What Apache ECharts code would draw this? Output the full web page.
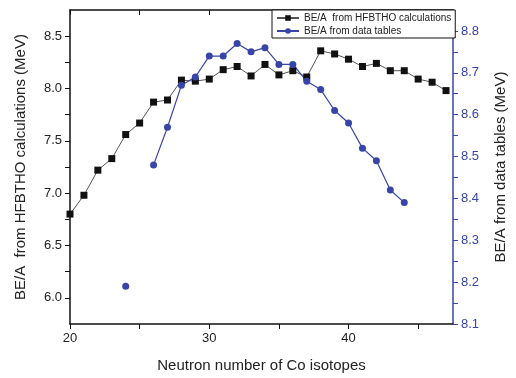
<!DOCTYPE html>
<html>
<head>
<meta charset="utf-8">
<script src="https://cdn.jsdelivr.net/npm/echarts@6/dist/echarts.min.js"></script>
<style>
  html, body { margin: 0; padding: 0; background: #fff; }
  #chart { width: 516px; height: 378px; }
</style>
</head>
<body>
<div id="chart"></div>
<script>
// neutron numbers
var neutronsCalc = [20, 21, 22, 23, 24, 25, 26, 27, 28, 29, 30, 31, 32, 33, 34, 35, 36, 37, 38, 39, 40, 41, 42, 43, 44, 45, 46, 47];
var beCalc = [6.80, 6.98, 7.22, 7.33, 7.56, 7.67, 7.87, 7.89, 8.08, 8.07, 8.09, 8.18, 8.21, 8.12, 8.23, 8.13, 8.17, 8.11, 8.36, 8.33, 8.28, 8.21, 8.24, 8.17, 8.17, 8.09, 8.06, 7.98];

var neutronsData = [24, 25, 26, 27, 28, 29, 30, 31, 32, 33, 34, 35, 36, 37, 38, 39, 40, 41, 42, 43, 44];
// 25 missing -> gap in the line
var beData = [8.19, null, 8.48, 8.57, 8.67, 8.69, 8.74, 8.74, 8.77, 8.75, 8.76, 8.72, 8.72, 8.68, 8.66, 8.61, 8.58, 8.52, 8.49, 8.42, 8.39];

var legendNames = ['BE/A  from HFBTHO calculations', 'BE/A from data tables'];

var blue = '#3845a8';
var font = 'Liberation Sans, Arial, sans-serif';

function pairs(xs, ys) {
  return xs.map(function (x, i) { return [x, ys[i]]; });
}

var chart = echarts.init(document.getElementById('chart'));

chart.setOption({
  animation: false,
  textStyle: { fontFamily: font },
  grid: { left: 70, right: 59, top: 10, bottom: 53 },
  legend: {
    orient: 'vertical',
    left: 272,
    top: 10,
    data: legendNames,
    itemWidth: 22,
    itemHeight: 7,
    itemGap: 3,
    padding: [3, 4, 2, 4],
    borderColor: '#111',
    borderWidth: 1,
    backgroundColor: '#fff',
    textStyle: { fontSize: 10, color: '#222', fontFamily: font }
  },
  xAxis: [{
    type: 'value',
    min: 20,
    max: 47.5,
    interval: 5,
    name: 'Neutron number of Co isotopes',
    nameLocation: 'middle',
    nameGap: 34,
    nameTextStyle: { fontSize: 15, color: '#222' },
    axisLine: { lineStyle: { color: '#111', width: 1.5 } },
    axisTick: { inside: false, length: 5, lineStyle: { color: '#111' } },
    axisLabel: {
      fontSize: 13, color: '#222',
      showMaxLabel: false,
      formatter: function (v) { return v % 10 === 0 ? v : ''; }
    },
    splitLine: { show: false }
  }, {
    type: 'value',
    position: 'top',
    min: 20,
    max: 47.5,
    interval: 5,
    axisLine: { show: true, lineStyle: { color: '#111', width: 1.5 } },
    axisTick: { inside: true, length: 5, lineStyle: { color: '#111' } },
    axisLabel: { show: false },
    splitLine: { show: false }
  }],
  yAxis: [{
    type: 'value',
    min: 5.75,
    max: 8.75,
    interval: 0.25,
    name: 'BE/A  from HFBTHO calculations (MeV)',
    nameLocation: 'middle',
    nameGap: 42,
    nameTextStyle: { fontSize: 15, color: '#222' },
    axisLine: { show: true, lineStyle: { color: '#111', width: 1.5 } },
    axisTick: { show: true, length: 5, lineStyle: { color: '#111' } },
    axisLabel: {
      fontSize: 13, color: '#222',
      showMinLabel: false, showMaxLabel: false,
      formatter: function (v) {
        return Math.round(v * 100) % 50 === 0 ? v.toFixed(1) : '';
      }
    },
    splitLine: { show: false }
  }, {
    type: 'value',
    position: 'right',
    min: 8.1,
    max: 8.85,
    interval: 0.05,
    name: 'BE/A from data tables (MeV)',
    nameLocation: 'middle',
    nameRotate: 90,
    nameGap: 40,
    nameTextStyle: { fontSize: 15, color: '#222' },
    axisLine: { show: true, lineStyle: { color: blue, width: 1.5 } },
    axisTick: { show: true, length: 5, lineStyle: { color: blue } },
    axisLabel: {
      fontSize: 13, color: blue,
      showMaxLabel: false,
      formatter: function (v) {
        return Math.round(v * 100) % 10 === 0 ? v.toFixed(1) : '';
      }
    },
    splitLine: { show: false }
  }],
  series: [{
    name: legendNames[0],
    type: 'line',
    yAxisIndex: 0,
    data: pairs(neutronsCalc, beCalc),
    symbol: 'rect',
    symbolSize: 7,
    itemStyle: { color: '#111' },
    lineStyle: { color: '#555', width: 1 }
  }, {
    name: legendNames[1],
    type: 'line',
    yAxisIndex: 1,
    data: pairs(neutronsData, beData),
    connectNulls: false,
    symbol: 'circle',
    symbolSize: 7,
    itemStyle: { color: blue },
    lineStyle: { color: blue, width: 1.2 }
  }]
});
</script>
</body>
</html>
